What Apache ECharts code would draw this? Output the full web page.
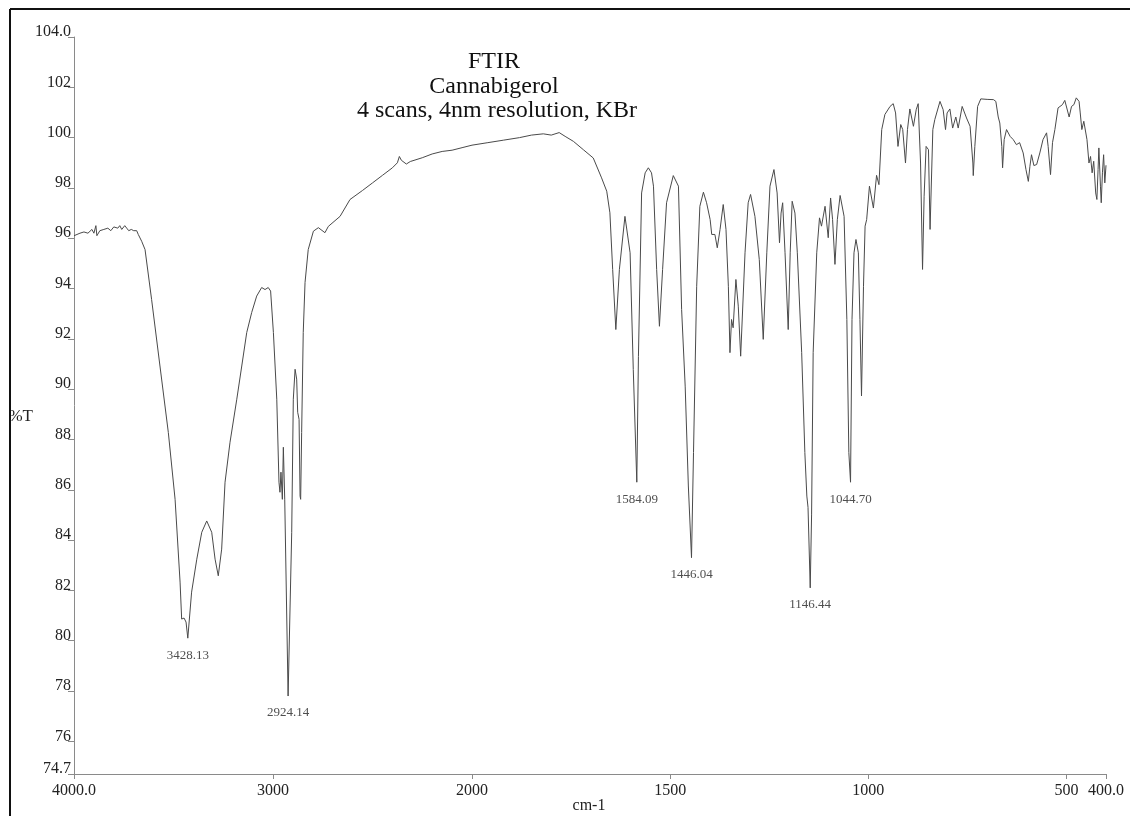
<!DOCTYPE html>
<html>
<head>
<meta charset="utf-8">
<script src="https://cdn.jsdelivr.net/npm/echarts@6/dist/echarts.min.js"></script>
<style>
html,body{margin:0;padding:0;background:#fff;}
#chart{width:1130px;height:816px;}
</style>
</head>
<body>
<div id="chart"></div>
<script>
// ---- data ----
var titleLines = ['FTIR', 'Cannabigerol', '4 scans, 4nm resolution, KBr'];
var yAxisName = '%T';
var xAxisName = 'cm-1';

var yTicks = [74.7, 76, 78, 80, 82, 84, 86, 88, 90, 92, 94, 96, 98, 100, 102, 104];
var xTicksHigh = [4000, 3000, 2000];
var xTicksLow = [1500, 1000, 500, 400];

// 4000 - 2000 cm-1
var highWn = [4000, 3985, 3970, 3950, 3930, 3910, 3900, 3890, 3885, 3870, 3850, 3830, 3815, 3800, 3780, 3770, 3760, 3745, 3735, 3725, 3712, 3700, 3685, 3677, 3660, 3643,
  3610, 3568, 3526, 3492, 3467, 3459, 3447, 3437, 3428.13, 3409, 3383, 3358, 3333, 3308, 3291, 3275, 3258, 3241, 3216, 3182, 3157, 3132, 3107, 3082, 3057, 3040, 3024, 3012,
  2998, 2981, 2970, 2965, 2960, 2953, 2948, 2941, 2924.14, 2906, 2898, 2889, 2881, 2876, 2869, 2864, 2861, 2856, 2848, 2839, 2823, 2797, 2772, 2739, 2722, 2663, 2613,
  2550, 2500, 2450, 2400, 2375, 2365, 2355, 2345, 2330, 2310, 2250, 2200, 2150, 2100, 2050, 2000];
var highT = [96.1, 96.15, 96.2, 96.25, 96.2, 96.35, 96.2, 96.5, 96.1, 96.3, 96.35, 96.4, 96.3, 96.45, 96.4, 96.5, 96.35, 96.5, 96.4, 96.3, 96.35, 96.3, 96.3, 96.15, 95.88, 95.55,
  93.56, 90.92, 88.28, 85.62, 82.33, 80.86, 80.9, 80.74, 80.1, 81.93, 83.24, 84.31, 84.76, 84.31, 83.24, 82.58, 83.64, 86.3, 87.89, 89.6, 90.92, 92.25, 93.05, 93.7, 94.04, 93.96, 94.04, 93.9,
  92.25, 89.6, 86.3, 85.9, 86.7, 85.62, 87.69, 85.6, 77.8, 84.31, 89.6, 90.79, 90.4, 89.08, 88.8, 85.75, 85.62, 88.28, 92.25, 94.24, 95.55, 96.28, 96.42, 96.22, 96.47, 96.87, 97.54,
  97.9, 98.2, 98.5, 98.8, 99.0, 99.25, 99.1, 99.15, 98.95, 99.05, 99.2, 99.35, 99.45, 99.5, 99.6, 99.7];

// 2000 - 400 cm-1
var lowWn = [2000, 1960, 1920, 1880, 1850, 1820, 1800, 1780, 1765, 1744, 1719, 1694, 1673, 1660, 1652, 1645, 1637, 1628, 1614, 1601, 1593, 1584.09, 1580, 1572, 1563, 1555, 1547, 1542,
  1534, 1527, 1519, 1509, 1492, 1479, 1471, 1462, 1454, 1446.04, 1441, 1433, 1425, 1416, 1408, 1399, 1395, 1387, 1381, 1374, 1366, 1359, 1353, 1349, 1345, 1341, 1334, 1328, 1322,
  1311, 1303, 1297, 1286, 1275, 1265, 1256, 1248, 1238, 1230, 1224, 1220, 1216, 1210, 1202, 1197, 1192, 1185, 1179, 1168, 1160, 1155, 1152, 1146.44, 1143, 1139, 1130, 1123, 1118,
  1109, 1101, 1095, 1090, 1084, 1078, 1071, 1061, 1054, 1049, 1044.70, 1041, 1036, 1031, 1025, 1021, 1017, 1012, 1008, 1004, 997, 987, 979, 973, 966, 958, 945, 937, 931, 925, 918,
  913, 906, 901, 895, 886, 879, 874, 868, 863, 859, 854, 848, 844, 842, 837, 832, 819, 811, 805, 801, 794, 787, 779, 773, 763, 752, 743, 736, 735, 731, 724, 716, 700, 684, 678,
  672, 668, 663, 661, 657, 651, 642, 634, 626, 618, 609, 602, 596, 592, 588, 582, 575, 567, 559, 550, 546, 540, 535, 529, 521, 510, 504, 493, 487, 481, 475, 468, 465, 461, 456,
  448, 443, 439, 435, 431, 426, 423, 420, 418, 414, 412, 409, 406, 403, 400];
var lowT = [99.7, 99.8, 99.9, 100.0, 100.1, 100.15, 100.1, 100.2, 100.05, 99.85, 99.52, 99.19, 98.4, 97.87, 97.01, 94.76, 92.37, 94.76, 96.87, 95.42, 90.78, 86.3, 91.3, 97.8, 98.6, 98.8, 98.6, 98.07,
  94.76, 92.5, 94.76, 97.41, 98.49, 98.07, 93.17, 90.12, 86.15, 83.3, 87.48, 94.09, 97.27, 97.83, 97.41, 96.74, 96.15, 96.15, 95.62, 96.35, 97.34, 96.35, 94.09, 91.45, 92.77, 92.44, 94.36, 93.3, 91.31,
  95.42, 97.41, 97.74, 96.87, 95.15, 91.98, 95.42, 98.07, 98.73, 97.8, 95.82, 97.0, 97.41, 95.42, 92.37, 95.42, 97.47, 97.0, 95.42, 91.45, 87.48, 85.75, 85.3, 82.1, 85.0, 91.45, 95.42, 96.81, 96.48,
  97.27, 96.02, 97.6, 96.74, 94.96, 96.74, 97.7, 96.87, 92.77, 87.48, 86.3, 92.77, 95.42, 95.95, 95.42, 92.77, 89.73, 94.09, 96.48, 96.74, 98.07, 97.2, 98.5, 98.13, 100.32, 100.92, 101.24, 101.35, 100.98, 99.65, 100.52,
  100.32, 98.99, 100.32, 101.14, 100.45, 101.11, 101.35, 98.99, 94.76, 97.67, 99.65, 99.52, 96.35, 96.28, 100.32, 100.72, 101.44, 101.11, 100.32, 100.98, 101.14, 100.38, 100.82, 100.38, 101.24, 100.78, 100.45, 98.99, 98.49, 99.65, 101.24, 101.54, 101.52, 101.51, 101.44,
  100.82, 100.58, 99.65, 98.8, 99.92, 100.32, 100.05, 99.92, 99.72, 99.8, 99.39, 98.73, 98.26, 98.86, 99.32, 98.89, 98.93, 99.39, 99.92, 100.19, 99.65, 98.53, 99.8, 100.32, 101.18, 101.31, 101.48, 100.82, 101.24, 101.31, 101.58, 101.44, 100.98, 100.32, 100.65,
  99.92, 98.99, 99.25, 98.6, 99.06, 97.8, 97.54, 98.73, 99.59, 98.07, 97.41, 98.6, 99.32, 98.2, 98.9];

var peakWn = [3428.13, 2924.14, 1584.09, 1446.04, 1146.44, 1044.70];
var peakT = [80.1, 77.8, 86.3, 83.3, 82.1, 86.3];

// ---- chart ----
function zip(a, b) { return a.map(function (v, i) { return [v, b[i]]; }); }
var serif = 'Liberation Serif';
var axisColor = '#8a8a8a';
var labelColor = '#222';
var lineColor = '#4a4a4a';

function yFmt(v) {
  if (Math.abs(v - 104) < 1e-6) return '104.0';
  if (Math.abs(v - 74.7) < 1e-6) return '74.7';
  return String(Math.round(v));
}
function xFmt(v) {
  if (v === 4000) return '4000.0';
  if (v === 400) return '400.0';
  return String(v);
}
function peakPoints(filter) {
  var out = [];
  peakWn.forEach(function (w, i) { if (filter(w)) out.push([w, peakT[i]]); });
  return out;
}

var gridTop = 37, gridHeight = 737;
var chart = echarts.init(document.getElementById('chart'), null, { renderer: 'canvas' });

function xAxisCfg(idx, min, max, ticks) {
  return {
    type: 'value', gridIndex: idx, min: min, max: max, inverse: true,
    axisLine: { show: true, lineStyle: { color: axisColor, width: 1 } },
    axisTick: { show: true, customValues: ticks, length: 5, lineStyle: { color: axisColor } },
    axisLabel: { customValues: ticks, formatter: xFmt, margin: 9, fontFamily: serif, fontSize: 16, color: labelColor },
    splitLine: { show: false }
  };
}

var peakLabel = {
  show: true, position: 'bottom', distance: 10,
  formatter: function (p) { return p.value[0].toFixed(2); },
  fontFamily: serif, fontSize: 13, color: labelColor
};

chart.setOption({
  animation: false,
  backgroundColor: '#fff',
  grid: [
    { left: 74, top: gridTop, width: 398, height: gridHeight },
    { left: 472, top: gridTop, width: 634, height: gridHeight }
  ],
  xAxis: [
    xAxisCfg(0, 2000, 4000, xTicksHigh),
    xAxisCfg(1, 400, 2000, xTicksLow)
  ],
  yAxis: [
    {
      type: 'value', gridIndex: 0, min: 74.7, max: 104,
      axisLine: { show: true, lineStyle: { color: axisColor, width: 1 } },
      axisTick: { show: true, customValues: yTicks, length: 6, lineStyle: { color: axisColor } },
      axisLabel: { customValues: yTicks, formatter: yFmt, margin: 3, fontFamily: serif, fontSize: 16, color: labelColor,
        verticalAlign: 'bottom', lineHeight: 10 },
      splitLine: { show: false }
    },
    { type: 'value', gridIndex: 1, min: 74.7, max: 104, show: false, splitLine: { show: false } }
  ],
  series: [
    { type: 'line', xAxisIndex: 0, yAxisIndex: 0, data: zip(highWn, highT), showSymbol: false, symbol: 'none',
      lineStyle: { color: lineColor, width: 1 }, silent: true },
    { type: 'line', xAxisIndex: 1, yAxisIndex: 1, data: zip(lowWn, lowT), showSymbol: false, symbol: 'none',
      lineStyle: { color: lineColor, width: 1 }, silent: true },
    { type: 'scatter', xAxisIndex: 0, yAxisIndex: 0, data: peakPoints(function (w) { return w >= 2000; }),
      symbolSize: 1, itemStyle: { color: 'rgba(0,0,0,0)' }, label: peakLabel, silent: true },
    { type: 'scatter', xAxisIndex: 1, yAxisIndex: 1, data: peakPoints(function (w) { return w < 2000; }),
      symbolSize: 1, itemStyle: { color: 'rgba(0,0,0,0)' }, label: peakLabel, silent: true }
  ],
  graphic: [
    { type: 'text', x: 494, y: 62, style: { text: titleLines[0], font: '24px "Liberation Serif"', fill: '#111', align: 'center', verticalAlign: 'middle' } },
    { type: 'text', x: 494, y: 87, style: { text: titleLines[1], font: '24px "Liberation Serif"', fill: '#111', align: 'center', verticalAlign: 'middle' } },
    { type: 'text', x: 497, y: 111, style: { text: titleLines[2], font: '24px "Liberation Serif"', fill: '#111', align: 'center', verticalAlign: 'middle' } },
    { type: 'text', x: 33, y: 417, style: { text: yAxisName, font: '17px "Liberation Serif"', fill: '#222', align: 'right', verticalAlign: 'middle' } },
    { type: 'text', x: 589, y: 806, style: { text: xAxisName, font: '16px "Liberation Serif"', fill: '#222', align: 'center', verticalAlign: 'middle' } },
    { type: 'rect', shape: { x: 0, y: 0, width: 10, height: 816 }, style: { fill: '#fff' }, z: 99 },
    { type: 'line', shape: { x1: 10, y1: 9, x2: 1130, y2: 9 }, style: { stroke: '#111', lineWidth: 2 }, z: 100 },
    { type: 'line', shape: { x1: 10, y1: 9, x2: 10, y2: 816 }, style: { stroke: '#111', lineWidth: 2 }, z: 100 }
  ]
});
</script>
</body>
</html>
